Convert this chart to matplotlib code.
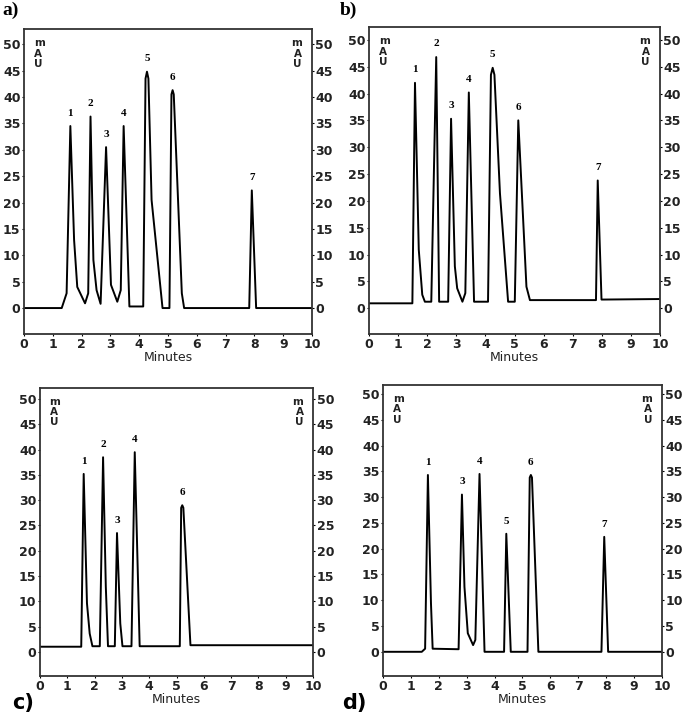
import matplotlib.pyplot as plt

# trace vertices (time in min, signal in mAU)
t_a = [0, 1.31, 1.48, 1.61, 1.74, 1.85, 2.12, 2.23, 2.31, 2.41, 2.52, 2.66, 2.85, 3.02,
       3.24, 3.36, 3.46, 3.66, 4.14, 4.22, 4.27, 4.32, 4.43, 4.81, 5.05, 5.12, 5.16, 5.20,
       5.48, 5.56, 7.82, 7.91, 8.06, 10]
y_a = [0, 0, 2.8, 34.5, 12.9, 4.0, 0.9, 2.8, 36.3, 9.1, 3.4, 0.8, 30.5, 4.4,
       1.2, 3.4, 34.5, 0.3, 0.3, 43.5, 44.8, 43.5, 20.5, 0, 0, 40.5, 41.3, 40.5,
       2.8, 0, 0, 22.3, 0, 0]

t_b = [0, 1.49, 1.58, 1.71, 1.83, 1.92, 2.14, 2.31, 2.41, 2.72, 2.82, 2.95, 3.03, 3.21,
       3.31, 3.43, 3.61, 4.09, 4.19, 4.25, 4.31, 4.50, 4.78, 5.01, 5.13, 5.41, 5.53, 7.80,
       7.86, 7.99, 10]
y_b = [0.9, 0.9, 42.0, 10.9, 2.5, 1.2, 1.2, 46.8, 1.2, 1.2, 35.3, 7.8, 3.7, 1.2,
       2.8, 40.2, 1.2, 1.2, 43.5, 44.8, 43.5, 21.4, 1.2, 1.2, 35.0, 4.0, 1.5, 1.5,
       23.8, 1.6, 1.7]

t_c = [0, 1.51, 1.60, 1.72, 1.82, 1.92, 2.19, 2.31, 2.41, 2.49, 2.74, 2.82, 2.94, 3.02,
       3.35, 3.47, 3.65, 5.12, 5.17, 5.21, 5.25, 5.51, 10]
y_c = [1.0, 1.0, 35.2, 9.6, 3.6, 1.1, 1.1, 38.5, 12.9, 1.1, 1.1, 23.5, 5.6, 1.1,
       1.1, 39.5, 1.1, 1.1, 28.5, 29.0, 28.5, 1.3, 1.3]

t_d = [0, 1.39, 1.51, 1.61, 1.72, 1.78, 2.71, 2.83, 2.92, 3.04, 3.23, 3.31, 3.46, 3.64,
       4.34, 4.42, 4.58, 5.18, 5.26, 5.30, 5.34, 5.57, 7.83, 7.93, 8.07, 10]
y_d = [0, 0, 0.6, 34.3, 9.4, 0.6, 0.5, 30.5, 12.6, 3.6, 1.3, 2.3, 34.5, 0,
       0, 22.9, 0, 0, 33.8, 34.3, 33.8, 0, 0, 22.3, 0, 0]

# peak numbers and where they sit
pk_a = ["1", "2", "3", "4", "5", "6", "7"]
pt_a = [1.61, 2.31, 2.85, 3.46, 4.27, 5.16, 7.91]
ph_a = [34.5, 36.3, 30.5, 34.5, 44.8, 41.3, 22.3]

pk_b = ["1", "2", "3", "4", "5", "6", "7"]
pt_b = [1.58, 2.31, 2.82, 3.43, 4.25, 5.13, 7.86]
ph_b = [42.0, 46.8, 35.3, 40.2, 44.8, 35.0, 23.8]

pk_c = ["1", "2", "3", "4", "6"]
pt_c = [1.60, 2.31, 2.82, 3.47, 5.21]
ph_c = [35.2, 38.5, 23.5, 39.5, 29.0]

pk_d = ["1", "3", "4", "5", "6", "7"]
pt_d = [1.61, 2.83, 3.46, 4.42, 5.30, 7.93]
ph_d = [34.3, 30.5, 34.5, 22.9, 34.3, 22.3]

x_ticks = list(range(0, 11))
y_ticks = list(range(0, 51, 5))

fig = plt.figure(figsize=(6.85, 7.15), dpi=100)

panels = [
    ([0.035, 0.533, 0.4205, 0.4265], t_a, y_a, pk_a, pt_a, ph_a, (-4.9, 52.9)),
    ([0.5387, 0.533, 0.4248, 0.4292], t_b, y_b, pk_b, pt_b, ph_b, (-4.8, 52.4)),
    ([0.0584, 0.0545, 0.3986, 0.4028], t_c, y_c, pk_c, pt_c, ph_c, (-4.8, 52.2)),
    ([0.5591, 0.0545, 0.4073, 0.407], t_d, y_d, pk_d, pt_d, ph_d, (-4.7, 51.75)),
]

for rect, t, y, pk, pt, ph, ylim in panels:
    ax = fig.add_axes(rect)
    ax.plot(t, y, color="black", lw=1.4, solid_joinstyle="round")
    ax.set_xlim(0, 10)
    ax.set_ylim(*ylim)
    ax.set_xticks(x_ticks)
    ax.set_yticks(y_ticks)
    ax.tick_params(axis="both", length=1.5, width=0.8, labelsize=9,
                   labelcolor="#222222", direction="out")
    ax.tick_params(axis="y", right=True, labelright=True, pad=1)
    ax.tick_params(axis="x", pad=1.5)
    for lab in ax.get_xticklabels() + ax.get_yticklabels():
        lab.set_fontweight("bold")
    ax.set_xlabel("Minutes", fontsize=9, labelpad=0, color="#222222")
    for s in ax.spines.values():
        s.set_color("#333333")
        s.set_linewidth(1.3)
    ax.text(0.035, 0.97, "m\nA\nU", transform=ax.transAxes, ha="left", va="top",
            fontsize=7.5, fontweight="bold", linespacing=1.05, color="#222222")
    ax.text(0.965, 0.97, "m\nA\nU", transform=ax.transAxes, ha="right", va="top",
            fontsize=7.5, fontweight="bold", linespacing=1.05, color="#222222")
    for name, xt, h in zip(pk, pt, ph):
        ax.text(xt, h + 1.6, name, ha="center", va="bottom", fontsize=8,
                fontweight="bold", family="Liberation Serif")

fig.text(0.003, 0.997, "a)", ha="left", va="top", fontsize=14, fontweight="bold",
         family="Liberation Serif")
fig.text(0.496, 0.997, "b)", ha="left", va="top", fontsize=14, fontweight="bold",
         family="Liberation Serif")
fig.text(0.018, 0.003, "c)", ha="left", va="bottom", fontsize=15, fontweight="bold")
fig.text(0.5, 0.003, "d)", ha="left", va="bottom", fontsize=15, fontweight="bold")

fig.savefig("out.png", dpi=100)
